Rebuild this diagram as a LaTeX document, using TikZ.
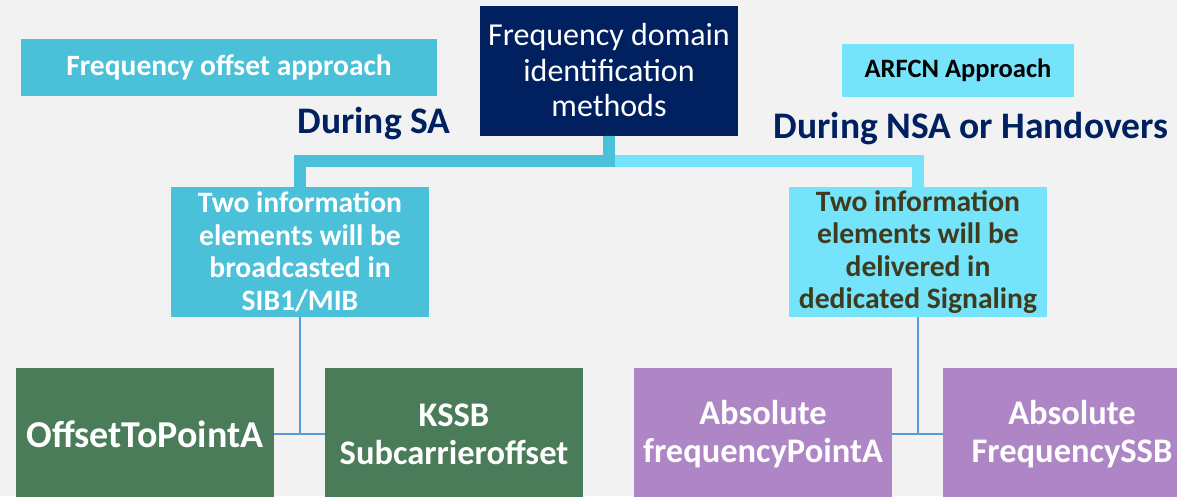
\documentclass[tikz,border=0pt]{standalone}
\usepackage{fontspec}
\setmainfont{Carlito}
\usetikzlibrary{calc}
\definecolor{bgc}{HTML}{F2F2F2}
\definecolor{navy}{HTML}{002060}
\definecolor{cyandk}{HTML}{4BC0D9}
\definecolor{cyanlt}{HTML}{75E3F9}
\definecolor{leaf}{HTML}{4A7C59}
\definecolor{lilac}{HTML}{AE86C5}
\definecolor{wire}{HTML}{5B9BD5}
\definecolor{olive}{HTML}{3E3B1F}
\begin{document}
\begin{tikzpicture}[x=1pt,y=-1pt,
  box/.style={rectangle, inner sep=0pt, align=center, text centered},
  rootbox/.style={box, fill=navy, text=white, minimum width=258pt, minimum height=130pt,
    font=\fontsize{32}{35.5}\selectfont},
  midbox/.style={box, minimum width=258pt, minimum height=130pt,
    font=\bfseries\fontsize{29.6}{32.5}\selectfont},
  leafbox/.style={box, text=white, minimum width=258pt, minimum height=132pt,
    font=\bfseries\fontsize{34.5}{38}\selectfont},
  phase/.style={inner sep=0pt, text=navy, font=\bfseries\fontsize{37.5}{40}\selectfont, anchor=base},
  trunk/.style={line width=12pt},
  twig/.style={draw=wire, line width=2.5pt}]
\clip (0,0) rectangle (1177,496);
\fill[bgc] (0,0) rectangle (1177,496);

% header boxes and labels
\node[rootbox] (root) at (609,70.5) {Frequency domain\\identification\\methods};
\node[box, fill=cyandk, text=white, minimum width=416pt, minimum height=57pt,
  font=\bfseries\fontsize{29.5}{32}\selectfont] (offset) at (229,67.5) {Frequency offset approach};
\node[box, fill=cyanlt, text=black, minimum width=232pt, minimum height=53pt,
  font=\bfseries\fontsize{26.5}{30}\selectfont] (arfcn) at (958,70.5) {ARFCN Approach};
\node[phase] (sa) at (374,133) {During SA};
\node[phase] (nsa) at (971,138) {During NSA or Handovers};

% second level
\node[midbox, fill=cyandk, text=white] (sib) at (300,252)
  {Two information\\elements will be\\broadcasted in\\SIB1/MIB};
\node[midbox, fill=cyanlt, text=olive] (ded) at (918,252)
  {Two information\\elements will be\\delivered in\\dedicated Signaling};

% leaves
\node[leafbox, fill=leaf, font=\bfseries\fontsize{38}{42}\selectfont] (ota) at (145,434) {OffsetToPointA};
\node[leafbox, fill=leaf] (kssb) at (454,434) {KSSB\\Subcarrieroffset};
\node[leafbox, fill=lilac] (afpa) at (763,434) {Absolute\\frequencyPointA};
\node[leafbox, fill=lilac] (afssb) at (1072,434) {Absolute\\FrequencySSB};

% thick elbows from the root
\coordinate (split) at ($(root.south)+(0,25)$);
\draw[trunk, draw=cyanlt] (split) -| (ded.north);
\draw[trunk, draw=cyandk] (root.south) -- (split) -| (sib.north);

% thin links to the leaves
\draw[twig] (sib.south) -- (sib.south |- ota.east);
\draw[twig] (ota.east) -- (kssb.west);
\draw[twig] (ded.south) -- (ded.south |- afpa.east);
\draw[twig] (afpa.east) -- (afssb.west);
\end{tikzpicture}
\end{document}
